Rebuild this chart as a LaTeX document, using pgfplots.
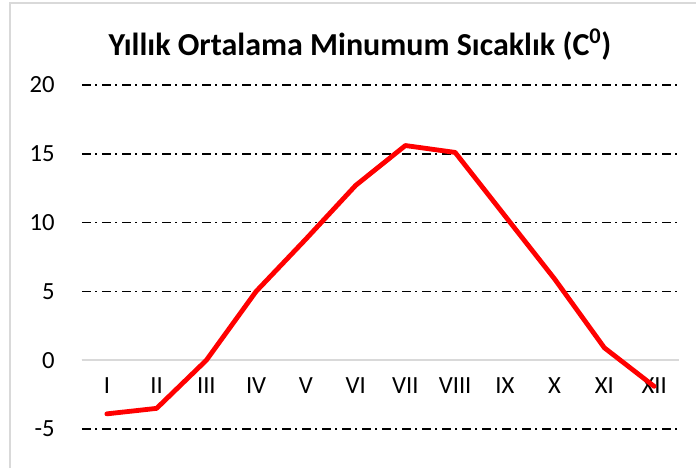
\documentclass[border=0pt]{standalone}
\usepackage{fontspec}
\setmainfont{Carlito}
\usepackage{pgfplots}
\pgfplotsset{compat=1.18}
\definecolor{exred}{HTML}{FF0000}
\definecolor{exgray}{HTML}{D9D9D9}

\begin{document}
\begin{tikzpicture}
\useasboundingbox (-61.5pt,-29.25pt) rectangle (460.5pt,321.75pt);
% chart frame (only left and top edges are visible)
\draw[exgray, line width=1.1pt] (-54pt,-29.25pt) -- (-54pt,319.5pt) -- (460.5pt,319.5pt);
\begin{axis}[
  at={(0,0)}, anchor=south west,
  scale only axis,
  width=447.75pt, height=258pt,
  xmin=0.5, xmax=12.5,
  ymin=-5, ymax=20,
  axis x line*=middle,
  axis y line*=left,
  x axis line style={exgray, line width=1.1pt},
  y axis line style={draw=none},
  major tick length=0pt,
  xtick={1,2,...,12},
  xticklabels={I,II,III,IV,V,VI,VII,VIII,IX,X,XI,XII},
  ytick={-5,0,5,10,15,20},
  yticklabels={-5,0,5,10,15,20},
  ymajorgrids,
  grid style={black, line width=1.1pt, dash pattern=on 6.5pt off 3.5pt on 1.5pt off 3.5pt},
  tick label style={font=\fontsize{18.5}{20}\selectfont, text=black},
  xticklabel style={anchor=center, yshift=-18.75pt},
  yticklabel style={anchor=east, inner sep=0pt, xshift=-20.25pt},
  clip=false,
]
\draw[exgray, line width=1.4pt] (axis cs:0.5,0) -- (axis cs:12.5,0);
\addplot[exred, line width=3.6pt, line join=round, line cap=round] coordinates {
  (1,-3.9) (2,-3.5) (3,0.0) (4,5.0) (5,8.8) (6,12.7)
  (7,15.6) (8,15.1) (9,10.5) (10,5.9) (11,0.9) (12,-1.9)
};
\end{axis}
\node[font=\fontsize{24}{28}\selectfont\bfseries, anchor=center] at (208.5pt,288.5pt)
  {Yıllık Ortalama Minumum Sıcaklık (C\textsuperscript{0})};
\end{tikzpicture}
\end{document}
